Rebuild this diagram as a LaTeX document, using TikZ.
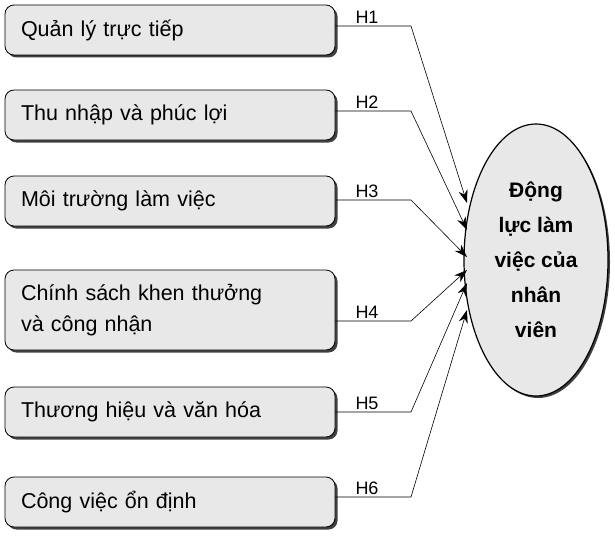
\documentclass[tikz,border=0pt]{standalone}
\usepackage{fontspec}
\setmainfont{Liberation Sans}
\usetikzlibrary{arrows.meta,shadows,shapes.geometric}
\begin{document}
\begin{tikzpicture}[x=1pt,y=-1pt,
  factor/.style={draw=black,line width=0.8pt,fill=gray!18,rounded corners=9pt,
    minimum width=330pt,text width=298pt,align=left,inner sep=0pt,
    font=\fontsize{21.5}{31}\selectfont,
    drop shadow={shadow xshift=2.5pt,shadow yshift=-2.5pt,fill=black!75,opacity=1}},
  conn/.style={line width=0.6pt,-{Stealth[length=13pt,width=9pt]}},
  hl/.style={font=\fontsize{18}{20}\selectfont,anchor=south,inner sep=2pt}]
\useasboundingbox (0,0) rectangle (615,535);
\node[factor,minimum height=50pt] (b1) at (170,30) {Quản lý trực tiếp};
\node[factor,minimum height=50pt] (b2) at (170,115) {Thu nhập và phúc lợi};
\node[factor,minimum height=50pt] (b3) at (170,201) {Môi trường làm việc};
\node[factor,minimum height=80pt] (b4) at (170,310) {Chính sách khen thưởng\\và công nhận};
\node[factor,minimum height=50pt] (b5) at (170,412) {Thương hiệu và văn hóa};
\node[factor,minimum height=50pt] (b6) at (170,502) {Công việc ổn định};
\node[draw=black,line width=1.2pt,ellipse,fill=gray!18,minimum width=144pt,minimum height=272pt,
  drop shadow={shadow xshift=2pt,shadow yshift=-2pt,fill=black!75,opacity=1},inner sep=0pt,
  align=center,font=\bfseries\fontsize{21}{35}\selectfont] (e) at (536,260) {Động\\lực làm\\việc của\\nhân\\viên};
\foreach \i/\y/\ty in {1/26/203,2/111/230,3/200/257,4/321/270,5/412/283,6/497/310}{
  \coordinate (k\i) at (411,\y);
  \coordinate (t\i) at (467,\ty);
  \draw[conn] (b\i.east |- k\i) -- (k\i) -- (t\i);
  \node[hl] at (367,\y) {H\i};
}
\end{tikzpicture}
\end{document}
